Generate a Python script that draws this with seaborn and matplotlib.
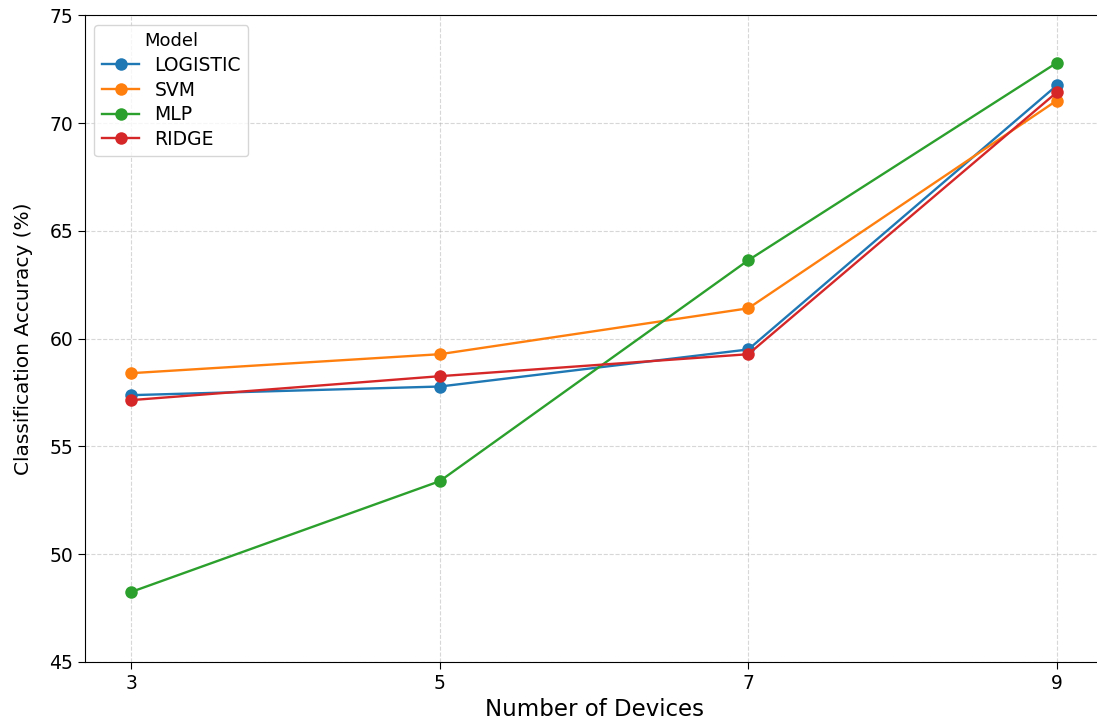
import matplotlib
matplotlib.use("Agg")
import matplotlib.pyplot as plt
import pandas as pd
import seaborn as sns

# data
devices = [3, 5, 7, 9]
logistic = [57.38, 57.78, 59.5, 71.75]
svm = [58.4, 59.28, 61.41, 71.05]
mlp = [48.25, 53.39, 63.64, 72.8]
ridge = [57.15, 58.26, 59.28, 71.43]
models = ["LOGISTIC", "SVM", "MLP", "RIDGE"]

rows = []
for name, vals in zip(models, [logistic, svm, mlp, ridge]):
    for d, v in zip(devices, vals):
        rows.append({"Devices": d, "Accuracy": v, "Model": name})
df = pd.DataFrame(rows)

fig = plt.figure(figsize=(10.97, 7.2), dpi=100)
ax = fig.add_axes([0.0775, 0.0806, 0.928, 0.898])

sns.lineplot(data=df, x="Devices", y="Accuracy", hue="Model", marker="o",
             markersize=9, markeredgewidth=0, linewidth=1.7, palette="tab10", ax=ax)

ax.set_xticks(devices)
ax.set_ylim(45, 75)
ax.set_xlim(2.7, 9.3)
ax.grid(True, linestyle="--", alpha=0.5)
ax.tick_params(labelsize=13.5, length=5)
ax.set_xlabel("Number of Devices", fontsize=16.5)
ax.set_ylabel("Classification Accuracy (%)", fontsize=14.5, labelpad=12)
ax.legend(title="Model", loc="upper left", fontsize=13.5, title_fontsize=13,
          labelspacing=0.3)

fig.savefig("out.png", dpi=100)
